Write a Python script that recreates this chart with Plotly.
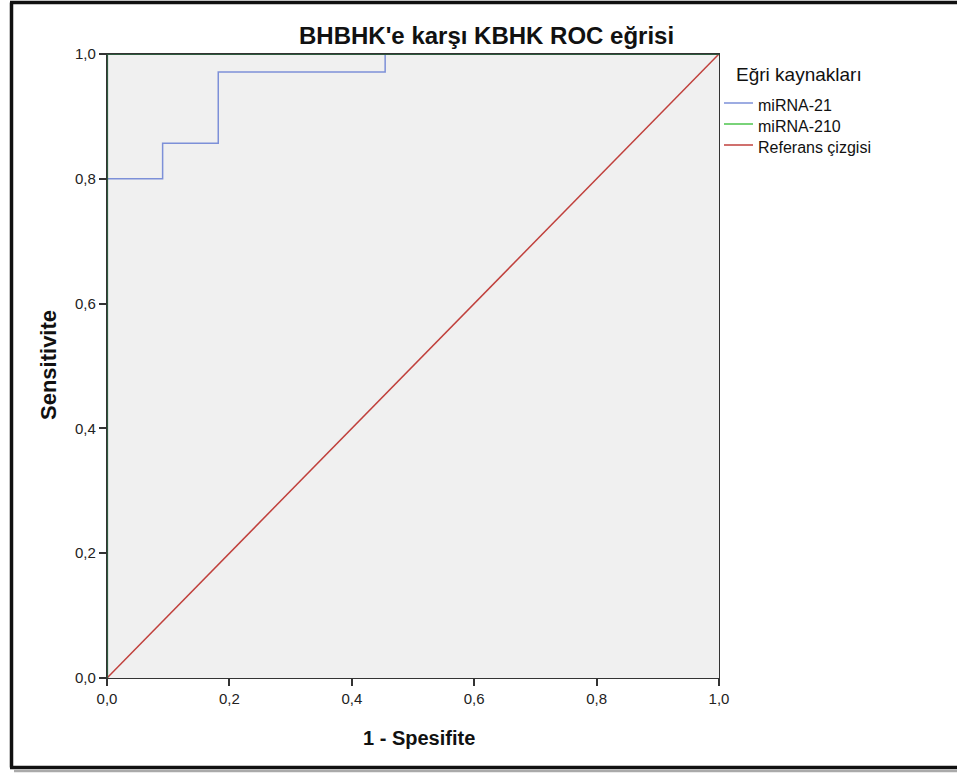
import plotly.graph_objects as go

# ROC data (1 - specificity, sensitivity)
fpr_mir21 = [0.0, 0.0, 0.0909, 0.1818, 0.4545, 1.0]
tpr_mir21 = [0.0, 0.8, 0.857, 0.971, 1.0, 1.0]
fpr_mir210 = [0.0, 0.0, 1.0]
tpr_mir210 = [0.0, 1.0, 1.0]
ref_x = [0.0, 1.0]
ref_y = [0.0, 1.0]
tick_vals = [0.0, 0.2, 0.4, 0.6, 0.8, 1.0]

series_names = ["miRNA-21", "miRNA-210", "Referans çizgisi"]
legend_colors = ["#7d90d8", "#4cc44c", "#c0403c"]
legend_title = "Eğri kaynakları"
title_text = "BHBHK'e karşı KBHK ROC eğrisi"

W, H = 957, 775
L, R, T, B = 107, 238, 54, 97
PW, PH = W - L - R, H - T - B
FONT = "Liberation Sans, Arial"

def px(x):
    return (x - L) / PW

def py(y):
    return (H - B - y) / PH

fig = go.Figure()

fig.add_trace(go.Scatter(x=ref_x, y=ref_y, mode="lines", name=series_names[2],
                         line=dict(color=legend_colors[2], width=1.5), showlegend=False,
                         cliponaxis=False, hoverinfo="skip"))
fig.add_trace(go.Scatter(x=fpr_mir21, y=tpr_mir21, mode="lines", line_shape="hv",
                         name=series_names[0],
                         line=dict(color=legend_colors[0], width=1.5), showlegend=False,
                         cliponaxis=False, hoverinfo="skip"))
fig.add_trace(go.Scatter(x=fpr_mir210, y=tpr_mir210, mode="lines", name=series_names[1],
                         line=dict(color="#2e5a3e", width=2.2), showlegend=False,
                         cliponaxis=False, hoverinfo="skip"))

axis_common = dict(range=[0, 1], tickvals=tick_vals, tickformat=".1f",
                   showgrid=False, zeroline=False, showline=True, mirror=True,
                   linecolor="#333333", linewidth=1.2, ticks="outside", ticklen=7,
                   tickcolor="#333333", tickwidth=1.5,
                   tickfont=dict(family=FONT, size=15, color="#222"))

fig.update_xaxes(**axis_common)
fig.update_yaxes(**axis_common)

fig.update_layout(
    width=W, height=H,
    margin=dict(l=L, r=R, t=T, b=B, pad=0),
    paper_bgcolor="white", plot_bgcolor="#f0f0f0",
    separators=", ",
    showlegend=False,
    font=dict(family=FONT),
)

annos = [
    dict(text="<b>" + title_text + "</b>", x=px(486), y=py(35), xref="paper", yref="paper",
         showarrow=False, font=dict(size=24, color="#111", family=FONT),
         xanchor="center", yanchor="middle"),
    dict(text="<b>1 - Spesifite</b>", x=px(419), y=py(738), xref="paper", yref="paper",
         showarrow=False, font=dict(size=20, color="#111", family=FONT),
         xanchor="center", yanchor="middle"),
    dict(text="<b>Sensitivite</b>", x=px(48), y=py(365), xref="paper", yref="paper",
         showarrow=False, textangle=-90,
         font=dict(size=22, color="#111", family=FONT),
         xanchor="center", yanchor="middle"),
    dict(text=legend_title, x=px(734), y=py(74), xref="paper", yref="paper",
         showarrow=False, font=dict(size=19, color="#111", family=FONT),
         xanchor="left", yanchor="middle"),
]
shapes = []
row_y = [103, 124, 145]
for name, col, ry in zip(series_names, legend_colors, row_y):
    annos.append(dict(text=name, x=px(756), y=py(ry + 2), xref="paper", yref="paper",
                      showarrow=False, font=dict(size=16, color="#111", family=FONT),
                      xanchor="left", yanchor="middle"))
    shapes.append(dict(type="line", xref="paper", yref="paper", x0=px(724), x1=px(753),
                       y0=py(ry), y1=py(ry), line=dict(color=col, width=1.5)))

fig.update_layout(annotations=annos)

frame = dict(color="#111111", width=3.5)
shapes += [
    dict(type="line", xref="paper", yref="paper", x0=px(11.5), x1=px(11.5), y0=py(2.5), y1=py(767.5), line=frame),
    dict(type="line", xref="paper", yref="paper", x0=px(10), x1=px(960), y0=py(2.5), y1=py(2.5), line=frame),
    dict(type="line", xref="paper", yref="paper", x0=px(10), x1=px(960), y0=py(767.5), y1=py(767.5), line=frame),
    dict(type="line", xref="paper", yref="paper", x0=px(14), x1=px(960), y0=py(771), y1=py(771),
         line=dict(color="#aaaaaa", width=2.5)),
]
fig.update_layout(shapes=shapes)

fig.write_html("out.html")
